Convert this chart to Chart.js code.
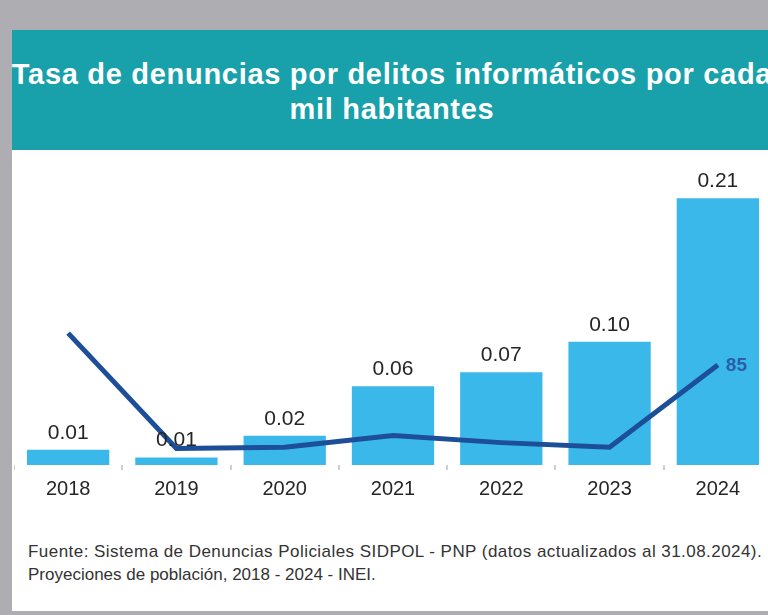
<!DOCTYPE html>
<html>
<head>
<meta charset="utf-8">
<script src="https://cdn.jsdelivr.net/npm/chart.js@4.4.1/dist/chart.umd.min.js"></script>
<style>
  html, body { margin: 0; padding: 0; width: 768px; height: 615px; overflow: hidden; background: #aeaeb2; font-family: "Liberation Sans", Arial, sans-serif; }
  #panel { position: absolute; left: 12px; top: 150px; width: 770px; height: 461px; background: #ffffff; }
  #header { position: absolute; left: 12px; top: 30px; width: 770px; height: 120px; background: #18a0ab; }
  #title { position: absolute; left: 0; top: 57px; width: 784px; text-align: center; color: #ffffff; font-weight: bold; font-size: 29px; line-height: 35px; letter-spacing: 0.7px; white-space: nowrap; }
  #footer { position: absolute; left: 28px; top: 540px; color: #333333; font-size: 17px; line-height: 23px; white-space: nowrap; }
  #footer .l1 { letter-spacing: 0.45px; }
  #wrap { position: absolute; left: 14px; top: 150px; width: 758px; height: 370px; }
</style>
</head>
<body>
<div id="header"></div>
<div id="panel"></div>
<div id="title">Tasa de denuncias por delitos informáticos por cada<br>mil habitantes</div>
<div id="wrap"><canvas id="c" width="758" height="370"></canvas></div>
<div id="footer"><span class="l1">Fuente: Sistema de Denuncias Policiales SIDPOL - PNP (datos actualizados al 31.08.2024).</span><br>Proyeciones de población, 2018 - 2024 - INEI.</div>
<script>
const years = ["2018", "2019", "2020", "2021", "2022", "2023", "2024"];
const tasaValues = [0.012, 0.006, 0.023, 0.062, 0.073, 0.097, 0.21];
const lineValues = [112, 14, 15, 25, 19, 15, 85];
const lineLabelIndex = 6;

const labelPlugin = {
  id: 'valueLabels',
  afterDatasetsDraw(chart) {
    const ctx = chart.ctx;
    ctx.save();
    const barMeta = chart.getDatasetMeta(1);
    ctx.font = '21px "Liberation Sans", Arial, sans-serif';
    ctx.fillStyle = '#262626';
    ctx.textAlign = 'center';
    ctx.textBaseline = 'middle';
    barMeta.data.forEach((el, i) => {
      ctx.fillText(tasaValues[i].toFixed(2), el.x, el.y - 17);
    });
    const lineMeta = chart.getDatasetMeta(0);
    const p = lineMeta.data[lineLabelIndex];
    ctx.font = 'bold 19px "Liberation Sans", Arial, sans-serif';
    ctx.fillStyle = '#2a5ea6';
    ctx.textAlign = 'left';
    ctx.fillText(String(lineValues[lineLabelIndex]), p.x + 8, p.y + 1);
    ctx.restore();
  }
};

new Chart(document.getElementById('c'), {
  data: {
    labels: years,
    datasets: [
      {
        type: 'line',
        data: lineValues,
        yAxisID: 'y1',
        borderColor: '#1c4f98',
        borderWidth: 5,
        pointRadius: 0,
        tension: 0,
        order: 0
      },
      {
        type: 'bar',
        data: tasaValues,
        yAxisID: 'y',
        backgroundColor: '#3bb8ea',
        barPercentage: 0.76,
        categoryPercentage: 1.0,
        order: 1
      }
    ]
  },
  plugins: [labelPlugin],
  options: {
    responsive: false,
    animation: false,
    layout: { padding: { top: 10, left: 0, right: 0, bottom: 0 } },
    plugins: { legend: { display: false }, tooltip: { enabled: false } },
    scales: {
      x: {
        offset: true,
        border: { display: false },
        grid: { offset: true, drawOnChartArea: false, drawTicks: true, tickLength: 5, color: '#cfcfcf', lineWidth: 2 },
        ticks: { color: '#262626', font: { size: 20, family: '"Liberation Sans", Arial, sans-serif' }, padding: 7 },
        afterFit(s) { s.height = 55; }
      },
      y: { display: false, min: 0, max: 0.24 },
      y1: { display: false, min: 0, max: 259 }
    }
  }
});
</script>
</body>
</html>
